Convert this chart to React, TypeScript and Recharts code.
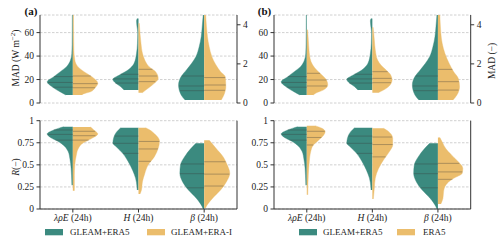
import React from 'react';
import { ComposedChart, Area, XAxis, YAxis, CartesianGrid, ReferenceLine } from 'recharts';

const TEAL = '#3b8a7f';
const GOLD = '#ebbd6c';
const AXIS = '#333';
const FONT = '"Liberation Serif", "DejaVu Serif", serif';

// categories (x positions of the category centres on a 0..3 axis)
const catSymbols = ['λρE', 'H', 'β'];
const catSuffix = ' (24h)';
const catPos = [0.5, 1.5, 2.5];

const madTicks = [0, 20, 40, 60];
const madRelTicks = [0, 2, 4];
const rTicks = [0, 0.25, 0.5, 0.75, 1];

// violin profiles: [value, half-width as fraction of category width]
// MAD (W m-2)
const madLE_GE5 = [[6.8, .106], [8.2, .15], [11, .24], [14, .32], [18, .39], [22.4, .29], [26.7, .19], [31, .095], [36.6, .035], [42, .016], [50, .011], [62, .009], [75, .008]];
const madLE_GEI = [[6.8, .14], [7.7, .16], [9.6, .27], [13, .34], [16.8, .38], [22.4, .29], [26.7, .17], [31, .076], [36.6, .03], [45, .016], [60, .012], [75, .01]];
const madLE_E5 = [[6.8, .1], [8.2, .13], [11, .25], [15.3, .32], [19.6, .3], [23.9, .23], [28.1, .15], [32.4, .09], [38, .05], [48, .03], [56.5, .02], [62.5, .012]];
const madH_GE5 = [[11, .22], [13.9, .27], [17, .35], [20.2, .39], [23.9, .29], [28.1, .16], [33.8, .067], [42.3, .03], [50.8, .016], [60, .012], [66, .025], [70, .03], [72, .02]];
const madH_GEI = [[8.8, .06], [11, .11], [15.3, .21], [21, .3], [26.7, .26], [31, .16], [36.6, .095], [42.3, .06], [50.8, .038], [59.3, .023], [68, .012]];
const madH_E5 = [[8.8, .09], [11, .17], [15.3, .27], [19.6, .3], [23.9, .28], [28.1, .21], [32.4, .13], [36.6, .08], [45, .045], [53.7, .03], [60, .02], [64.5, .012]];
// MAD (-) for beta, right axis
const madB_GE5 = [[0.15, .29], [0.41, .35], [0.92, .39], [1.35, .35], [1.69, .27], [2.03, .19], [2.37, .126], [2.88, .076], [3.39, .045], [3.9, .03], [4.5, .015]];
const madB_GEI = [[0.15, .26], [0.41, .3], [0.83, .33], [1.35, .32], [1.6, .25], [1.94, .18], [2.37, .117], [2.88, .076], [3.39, .05], [3.9, .035], [4.5, .023]];
const madB_E5 = [[0.15, .23], [0.41, .29], [0.83, .33], [1.26, .31], [1.6, .24], [2.03, .17], [2.54, .106], [3.05, .065], [3.56, .045], [4.07, .035], [4.5, .03]];
// R (-)
const rLE_GE5 = [[0.27, .015], [0.38, .02], [0.46, .026], [0.57, .045], [0.65, .071], [0.71, .126], [0.76, .21], [0.81, .34], [0.85, .39], [0.895, .29], [0.932, .14]];
const rLE_GEI = [[0.207, .023], [0.38, .023], [0.5, .03], [0.61, .053], [0.68, .08], [0.74, .14], [0.8, .29], [0.85, .38], [0.895, .32], [0.93, .27]];
const rLE_E5 = [[0.16, .015], [0.385, .023], [0.536, .038], [0.65, .06], [0.725, .1], [0.78, .18], [0.83, .25], [0.876, .28], [0.914, .23], [0.943, .126]];
const rH_GE5 = [[0.215, .02], [0.25, .023], [0.35, .045], [0.44, .09], [0.536, .156], [0.63, .24], [0.706, .34], [0.744, .39], [0.8, .38], [0.876, .33], [0.92, .27]];
const rH_GEI = [[0.17, .023], [0.215, .045], [0.31, .06], [0.4, .095], [0.5, .147], [0.59, .24], [0.687, .3], [0.77, .32], [0.84, .26], [0.9, .16], [0.92, .11]];
const rH_E5 = [[0.113, .015], [0.235, .03], [0.35, .045], [0.46, .095], [0.555, .17], [0.65, .26], [0.725, .31], [0.8, .31], [0.876, .25], [0.914, .17]];
const rB_GE5 = [[0, .015], [0.026, .03], [0.12, .117], [0.215, .24], [0.31, .33], [0.404, .37], [0.5, .36], [0.59, .3], [0.687, .2], [0.744, .126]];
const rB_GEI = [[0.01, .02], [0.026, .03], [0.12, .126], [0.215, .25], [0.31, .34], [0.404, .39], [0.5, .35], [0.59, .29], [0.687, .18], [0.744, .117], [0.78, .076]];
const rB_E5 = [[0.057, .045], [0.12, .076], [0.215, .09], [0.29, .14], [0.347, .24], [0.404, .37], [0.46, .38], [0.536, .31], [0.61, .21], [0.687, .117], [0.76, .065], [0.81, .03]];

// quartiles (25, 50, 75 %)
const qMadLE_GE5 = [13.5, 17.5, 22.5];
const qMadLE_GEI = [13, 16.5, 23];
const qMadLE_E5 = [14.5, 19.6, 25.3];
const qMadH_GE5 = [17, 20.5, 24.5];
const qMadH_GEI = [18.2, 23, 28.7];
const qMadH_E5 = [17.3, 21, 26.7];
const qMadB_GE5 = [0.63, 0.87, 1.38];
const qMadB_GEI = [0.65, 0.92, 1.3];
const qMadB_E5 = [0.66, 1.09, 1.72];
const qRLE_GE5 = [0.78, 0.845, 0.895];
const qRLE_GEI = [0.78, 0.83, 0.88];
const qRLE_E5 = [0.725, 0.81, 0.88];
const qRH_GE5 = [0.63, 0.744, 0.826];
const qRH_GEI = [0.54, 0.68, 0.765];
const qRH_E5 = [0.59, 0.73, 0.815];
const qRB_GE5 = [0.24, 0.4, 0.51];
const qRB_GEI = [0.26, 0.395, 0.535];
const qRB_E5 = [0.336, 0.42, 0.517];

type Half = { key: string; dens: number[][]; quart: number[]; cat: number; side: number; color: string; axis: number | string };

function buildRows(halves: Half[]) {
  const rows: any[] = [];
  halves.forEach((h) => {
    h.dens.forEach(([v, w]) => {
      rows.push({ y: v, [h.key]: catPos[h.cat] + h.side * w });
    });
  });
  return rows;
}

function widthAt(dens: number[][], q: number) {
  for (let i = 0; i < dens.length - 1; i++) {
    const [v0, w0] = dens[i];
    const [v1, w1] = dens[i + 1];
    if (q >= v0 && q <= v1) return w0 + ((w1 - w0) * (q - v0)) / (v1 - v0);
  }
  return 0;
}

const CatTick = (props: any) => {
  const { x, y, payload } = props;
  const idx = catPos.indexOf(payload.value);
  if (idx < 0) return null;
  return (
    <text x={x} y={y} dy="0.71em" textAnchor="middle" fontFamily={FONT} fontSize={9.5} fill="#222">
      <tspan fontStyle="italic">{catSymbols[idx]}</tspan>
      <tspan>{catSuffix}</tspan>
    </text>
  );
};

const tickStyle = { fontFamily: FONT, fontSize: 9.5, fill: '#222' };

function ViolinChart(p: {
  halves: Half[]; left: number; top: number; w: number; h: number; mTop: number; mBottom: number;
  leftW: number; rightW: number; lDomain: number[]; lTicks: number[]; rDomain: number[]; rTicks: number[];
  showR: boolean; xLabels: boolean; xAxisH: number;
}) {
  const rows = buildRows(p.halves);
  return (
    <div style={{ position: 'absolute', left: p.left, top: p.top, width: p.w, height: p.h }}>
      <ComposedChart width={p.w} height={p.h} data={rows} layout="vertical" margin={{ top: p.mTop, right: 0, bottom: p.mBottom, left: 0 }}>
        <CartesianGrid vertical={false} stroke="#c4c4c4" strokeDasharray="2.5 1.5" strokeWidth={0.8} />
        {p.halves.map((h) => (
          <Area
            key={h.key}
            dataKey={h.key}
            yAxisId={h.axis}
            baseValue={catPos[h.cat]}
            type="monotone"
            fill={h.color}
            fillOpacity={1}
            stroke={h.color}
            strokeWidth={0.4}
            dot={false}
            activeDot={false}
            connectNulls={false}
            isAnimationActive={false}
          />
        ))}
        {p.halves.map((h) =>
          h.quart.map((q, i) => (
            <ReferenceLine
              key={h.key + '_q' + i}
              yAxisId={h.axis}
              segment={[{ x: catPos[h.cat], y: q }, { x: catPos[h.cat] + h.side * widthAt(h.dens, q), y: q }]}
              stroke="#3a3a3a"
              strokeOpacity={0.45}
              strokeWidth={0.8}
              ifOverflow="visible"
            />
          ))
        )}
        <XAxis
          xAxisId={0}
          type="number"
          domain={[0, 3]}
          allowDataOverflow
          ticks={catPos}
          interval={0}
          height={p.xAxisH}
          tick={p.xLabels ? <CatTick /> : false}
          tickLine={p.xLabels ? { stroke: AXIS } : false}
          tickSize={3.5}
          tickMargin={2}
          axisLine={{ stroke: AXIS }}
        />
        <XAxis xAxisId="top" orientation="top" type="number" domain={[0, 3]} allowDataOverflow height={0} tick={false} tickLine={false} axisLine={{ stroke: AXIS }} />
        <YAxis
          yAxisId={0}
          type="number"
          dataKey="y"
          reversed
          domain={p.lDomain}
          allowDataOverflow
          ticks={p.lTicks}
          interval={0}
          width={p.leftW}
          tick={tickStyle}
          tickSize={3.5}
          tickMargin={2.5}
          tickLine={{ stroke: AXIS }}
          axisLine={{ stroke: AXIS }}
        />
        <YAxis
          yAxisId="r"
          orientation="right"
          type="number"
          dataKey="y"
          reversed
          domain={p.rDomain}
          allowDataOverflow
          ticks={p.rTicks}
          interval={0}
          width={p.rightW}
          tick={p.showR ? tickStyle : false}
          tickSize={3.5}
          tickMargin={2.5}
          tickLine={p.showR ? { stroke: AXIS } : false}
          axisLine={{ stroke: AXIS }}
        />
      </ComposedChart>
    </div>
  );
}

const madA: Half[] = [
  { key: 'le_g5', dens: madLE_GE5, quart: qMadLE_GE5, cat: 0, side: -1, color: TEAL, axis: 0 },
  { key: 'le_gi', dens: madLE_GEI, quart: qMadLE_GEI, cat: 0, side: 1, color: GOLD, axis: 0 },
  { key: 'h_g5', dens: madH_GE5, quart: qMadH_GE5, cat: 1, side: -1, color: TEAL, axis: 0 },
  { key: 'h_gi', dens: madH_GEI, quart: qMadH_GEI, cat: 1, side: 1, color: GOLD, axis: 0 },
  { key: 'b_g5', dens: madB_GE5, quart: qMadB_GE5, cat: 2, side: -1, color: TEAL, axis: 'r' },
  { key: 'b_gi', dens: madB_GEI, quart: qMadB_GEI, cat: 2, side: 1, color: GOLD, axis: 'r' },
];
const madB: Half[] = [
  { key: 'le_g5', dens: madLE_GE5, quart: qMadLE_GE5, cat: 0, side: -1, color: TEAL, axis: 0 },
  { key: 'le_e5', dens: madLE_E5, quart: qMadLE_E5, cat: 0, side: 1, color: GOLD, axis: 0 },
  { key: 'h_g5', dens: madH_GE5, quart: qMadH_GE5, cat: 1, side: -1, color: TEAL, axis: 0 },
  { key: 'h_e5', dens: madH_E5, quart: qMadH_E5, cat: 1, side: 1, color: GOLD, axis: 0 },
  { key: 'b_g5', dens: madB_GE5, quart: qMadB_GE5, cat: 2, side: -1, color: TEAL, axis: 'r' },
  { key: 'b_e5', dens: madB_E5, quart: qMadB_E5, cat: 2, side: 1, color: GOLD, axis: 'r' },
];
const rA: Half[] = [
  { key: 'le_g5', dens: rLE_GE5, quart: qRLE_GE5, cat: 0, side: -1, color: TEAL, axis: 0 },
  { key: 'le_gi', dens: rLE_GEI, quart: qRLE_GEI, cat: 0, side: 1, color: GOLD, axis: 0 },
  { key: 'h_g5', dens: rH_GE5, quart: qRH_GE5, cat: 1, side: -1, color: TEAL, axis: 0 },
  { key: 'h_gi', dens: rH_GEI, quart: qRH_GEI, cat: 1, side: 1, color: GOLD, axis: 0 },
  { key: 'b_g5', dens: rB_GE5, quart: qRB_GE5, cat: 2, side: -1, color: TEAL, axis: 0 },
  { key: 'b_gi', dens: rB_GEI, quart: qRB_GEI, cat: 2, side: 1, color: GOLD, axis: 0 },
];
const rB: Half[] = [
  { key: 'le_g5', dens: rLE_GE5, quart: qRLE_GE5, cat: 0, side: -1, color: TEAL, axis: 0 },
  { key: 'le_e5', dens: rLE_E5, quart: qRLE_E5, cat: 0, side: 1, color: GOLD, axis: 0 },
  { key: 'h_g5', dens: rH_GE5, quart: qRH_GE5, cat: 1, side: -1, color: TEAL, axis: 0 },
  { key: 'h_e5', dens: rH_E5, quart: qRH_E5, cat: 1, side: 1, color: GOLD, axis: 0 },
  { key: 'b_g5', dens: rB_GE5, quart: qRB_GE5, cat: 2, side: -1, color: TEAL, axis: 0 },
  { key: 'b_e5', dens: rB_E5, quart: qRB_E5, cat: 2, side: 1, color: GOLD, axis: 0 },
];

const legendA = [
  { label: 'GLEAM+ERA5', color: TEAL, x: 45, tx: 70 },
  { label: 'GLEAM+ERA-I', color: GOLD, x: 147, tx: 171 },
];
const legendB = [
  { label: 'GLEAM+ERA5', color: TEAL, x: 299, tx: 323 },
  { label: 'ERA5', color: GOLD, x: 397, tx: 423 },
];

export default function App() {
  return (
    <div style={{ position: 'absolute', left: 0, top: 0, width: 500, height: 241, background: '#fff', overflow: 'hidden' }}>
      <ViolinChart halves={madA} left={0} top={0} w={250} h={110} mTop={15} mBottom={7} leftW={40} rightW={13}
        lDomain={[0, 75]} lTicks={madTicks} rDomain={[0, 4.5]} rTicks={madRelTicks} showR xLabels={false} xAxisH={0} />
      <ViolinChart halves={rA} left={0} top={105} w={250} h={120} mTop={15.7} mBottom={0} leftW={40} rightW={13}
        lDomain={[0, 1]} lTicks={rTicks} rDomain={[0, 1]} rTicks={rTicks} showR={false} xLabels xAxisH={16} />
      <ViolinChart halves={madB} left={250} top={0} w={250} h={110} mTop={15} mBottom={7} leftW={24} rightW={29.3}
        lDomain={[0, 75]} lTicks={madTicks} rDomain={[0, 4.5]} rTicks={madRelTicks} showR xLabels={false} xAxisH={0} />
      <ViolinChart halves={rB} left={250} top={105} w={250} h={120} mTop={15.7} mBottom={0} leftW={24} rightW={29.3}
        lDomain={[0, 1]} lTicks={rTicks} rDomain={[0, 1]} rTicks={rTicks} showR={false} xLabels xAxisH={16} />
      <svg width={500} height={241} style={{ position: 'absolute', left: 0, top: 0, pointerEvents: 'none' }} fontFamily={FONT}>
        <text x={31} y={15} textAnchor="middle" fontSize={11} fontWeight="bold" fill="#111">(a)</text>
        <text x={264.5} y={15} textAnchor="middle" fontSize={11} fontWeight="bold" fill="#111">(b)</text>
        <text transform="translate(18.5,58) rotate(-90)" textAnchor="middle" fontSize={9.5} fill="#222">
          <tspan>MAD (W m</tspan>
          <tspan dy={-3.5} fontSize={7}>−2</tspan>
          <tspan dy={3.5}>)</tspan>
        </text>
        <text transform="translate(18.5,167) rotate(-90)" textAnchor="middle" fontSize={9.5} fill="#222">
          <tspan fontStyle="italic">R</tspan>
          <tspan>(−)</tspan>
        </text>
        <text transform="translate(495,61) rotate(-90)" textAnchor="middle" fontSize={9.5} fill="#222">MAD (−)</text>
        {[...legendA, ...legendB].map((l, i) => (
          <g key={i}>
            <rect x={l.x} y={229} width={18} height={6.3} fill={l.color} />
            <text x={l.tx} y={235.3} fontSize={9} fill="#222">{l.label}</text>
          </g>
        ))}
      </svg>
    </div>
  );
}
